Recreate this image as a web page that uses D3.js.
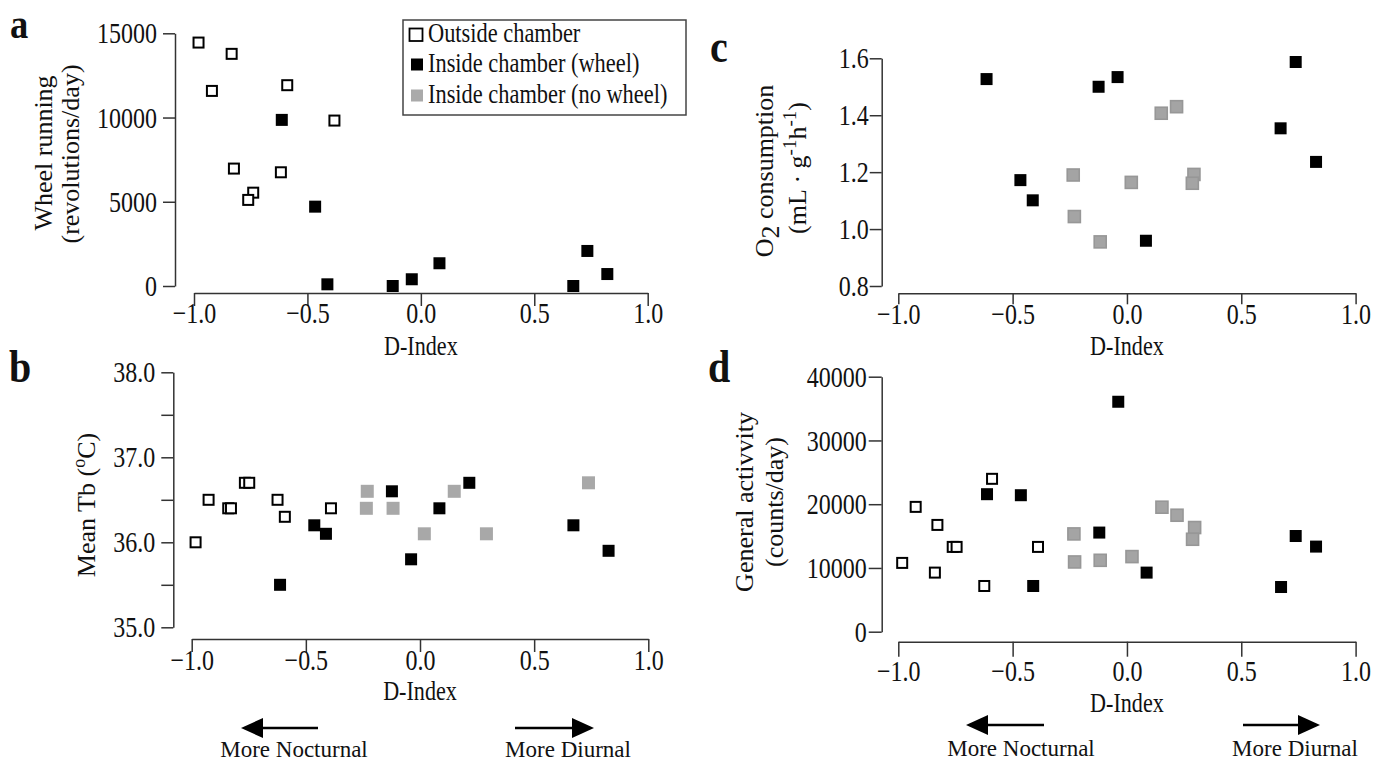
<!DOCTYPE html>
<html><head><meta charset="utf-8">
<script src="https://cdn.jsdelivr.net/npm/d3@7"></script>
<style>
body{margin:0;background:#fff}
svg{display:block;background:#fff}
text{font-family:"Liberation Serif","Times New Roman",serif;fill:#111}
</style>
</head><body>
<svg id="chart" width="1383" height="763"></svg>
<script>
// ---------- DATA ([D-Index, value]) ----------
const wheelOutside = [[-0.98,14450],[-0.834,13780],[-0.921,11580],[-0.589,11920],[-0.381,9820],[-0.824,6970],[-0.617,6750],[-0.739,5540],[-0.761,5110]];
const wheelInside  = [[-0.613,9860],[-0.466,4710],[-0.412,100],[-0.124,0],[-0.04,400],[0.082,1350],[0.672,0],[0.734,2080],[0.822,710]];

const tbOutside = [[-0.983,36.0],[-0.926,36.5],[-0.840,36.4],[-0.828,36.4],[-0.767,36.7],[-0.748,36.7],[-0.624,36.5],[-0.592,36.3],[-0.390,36.4]];
const tbWheel   = [[-0.613,35.5],[-0.463,36.2],[-0.412,36.1],[-0.123,36.6],[-0.039,35.8],[0.085,36.4],[0.216,36.7],[0.672,36.2],[0.826,35.9]];
const tbNoWheel = [[-0.231,36.6],[-0.235,36.4],[-0.118,36.4],[0.019,36.1],[0.150,36.6],[0.291,36.1],[0.738,36.7]];

const o2Wheel   = [[-0.614,1.527],[-0.466,1.172],[-0.412,1.101],[-0.124,1.500],[-0.041,1.534],[0.083,0.959],[0.672,1.354],[0.738,1.587],[0.827,1.236]];
const o2NoWheel = [[-0.235,1.19],[-0.230,1.044],[-0.117,0.955],[0.019,1.164],[0.150,1.407],[0.217,1.430],[0.293,1.192],[0.286,1.161]];

const actOutside = [[-0.983,10790],[-0.924,19580],[-0.829,16750],[-0.840,9270],[-0.762,13300],[-0.745,13300],[-0.624,7170],[-0.590,23980],[-0.389,13300]];
const actWheel   = [[-0.612,21570],[-0.464,21410],[-0.410,7170],[-0.121,15550],[-0.038,36070],[0.086,9270],[0.674,7010],[0.738,15010],[0.827,13350]];
const actNoWheel = [[-0.232,15340],[-0.229,10940],[-0.117,11200],[0.022,11780],[0.153,19530],[0.219,18270],[0.296,16340],[0.287,14500]];

// ---------- TICKS / LABELS ----------
const xTicks = [-1, -0.5, 0, 0.5, 1];
const aTicks = [0, 5000, 10000, 15000];
const bTicks = [35, 35.5, 36, 36.5, 37, 37.5, 38];
const cTicks = [0.8, 1.0, 1.2, 1.4, 1.6];
const dTicks = [0, 10000, 20000, 30000, 40000];
const legendLabels = ["Outside chamber", "Inside chamber (wheel)", "Inside chamber (no wheel)"];
const xTitle = "D-Index";

// ---------- DRAW ----------
const svg = d3.select("#chart");
const SX = 0.8;
const FONT = "Liberation Serif, Times New Roman, serif";
const fmtX = v => (v < 0 ? "\u2212" : "") + Math.abs(v).toFixed(1);

function squares(g, data, x, y, kind) {
  const s = kind === "open" ? 10 : 12;
  const r = g.append("g").selectAll("rect").data(data).join("rect")
    .attr("x", d => x(d[0]) - s / 2).attr("y", d => y(d[1]) - s / 2)
    .attr("width", s).attr("height", s);
  if (kind === "open") r.attr("fill", "#fff").attr("stroke", "#000").attr("stroke-width", 2);
  else if (kind === "black") r.attr("fill", "#000");
  else if (kind === "grayB") r.attr("fill", "#a8a8a8").attr("x", d => x(d[0]) - 6.5).attr("y", d => y(d[1]) - 6.5).attr("width", 13).attr("height", 13);
  else if (kind === "grayC") r.attr("fill", "#a4a4a4").attr("stroke", "#979797").attr("stroke-width", 1.6);
}

function panel(cfg) {
  const x = d3.scaleLinear().domain([-1, 1]).range(cfg.xr);
  const y = d3.scaleLinear().domain(cfg.yd).range(cfg.yr);
  const g = svg.append("g");

  const ya = g.append("g").attr("transform", `translate(${cfg.yAxisX},0)`)
    .call(d3.axisLeft(y).tickValues(cfg.yTicks).tickSize(cfg.yTick).tickSizeOuter(0).tickFormat(cfg.yFmt));
  ya.attr("font-family", FONT).attr("font-size", 30);
  ya.selectAll(".domain, .tick line").attr("stroke", "#333").attr("stroke-width", 1.5);
  ya.selectAll(".tick text").attr("fill", "#111")
    .attr("x", -(cfg.yTick + cfg.yGap) / SX).attr("transform", `scale(${SX},1)`);

  const xa = g.append("g").attr("transform", `translate(0,${cfg.xAxisY})`)
    .call(d3.axisBottom(x).tickValues(xTicks).tickSize(cfg.xTick).tickSizeOuter(0).tickFormat(fmtX));
  xa.attr("font-family", FONT).attr("font-size", 30);
  xa.selectAll(".domain, .tick line").attr("stroke", "#333").attr("stroke-width", 1.5);
  xa.selectAll(".tick text").attr("fill", "#111")
    .attr("y", cfg.xLabY - cfg.xAxisY).attr("dy", 0).attr("transform", `scale(${SX},1)`);

  g.append("text").attr("transform", `translate(${(cfg.xr[0] + cfg.xr[1]) / 2},${cfg.titleY}) scale(0.82,1)`)
    .attr("text-anchor", "middle").attr("font-size", 27).text(xTitle);

  g.append("text").attr("transform", `translate(${cfg.letter[0]},${cfg.letter[1]}) scale(0.87,1)`)
    .attr("font-size", cfg.letter[3]).attr("font-weight", "bold").text(cfg.letter[2]);

  cfg.series.forEach(s => squares(g, s[0], x, y, s[1]));
  return { g, x, y };
}

// a
panel({ xr: [194, 647.7], yd: [0, 15000], yr: [286, 33.3], yAxisX: 175, xAxisY: 293,
  yTicks: aTicks, yFmt: d3.format("d"), yTick: 12, yGap: 6, xTick: 13, xLabY: 323, titleY: 355,
  letter: [10, 38, "a", 42], series: [[wheelOutside, "open"], [wheelInside, "black"]] });
// b
panel({ xr: [191.7, 648.3], yd: [35, 38], yr: [627.3, 372.3], yAxisX: 173.3, xAxisY: 639,
  yTicks: bTicks, yFmt: v => Number.isInteger(v) ? v.toFixed(1) : "", yTick: 12, yGap: 6, xTick: 13, xLabY: 670, titleY: 700,
  letter: [9, 382, "b", 46], series: [[tbOutside, "open"], [tbNoWheel, "grayB"], [tbWheel, "black"]] });
// c
panel({ xr: [898.3, 1355.6], yd: [0.8, 1.6], yr: [286, 58.3], yAxisX: 881.7, xAxisY: 293.3,
  yTicks: cTicks, yFmt: d3.format(".1f"), yTick: 12, yGap: 1, xTick: 11, xLabY: 324, titleY: 355,
  letter: [710, 62, "c", 46], series: [[o2NoWheel, "grayC"], [o2Wheel, "black"]] });
// d
panel({ xr: [898.3, 1355.6], yd: [0, 40000], yr: [631.7, 376.7], yAxisX: 881.7, xAxisY: 641.7,
  yTicks: dTicks, yFmt: d3.format("d"), yTick: 13, yGap: 2, xTick: 15, xLabY: 681, titleY: 712,
  letter: [708, 382, "d", 46], series: [[actOutside, "open"], [actNoWheel, "grayC"], [actWheel, "black"]] });

// y-axis titles (rotated)
function vlabel(x, y, build) {
  const t = svg.append("text").attr("transform", `translate(${x},${y}) rotate(-90)`)
    .attr("text-anchor", "middle").attr("font-size", 26);
  build(t);
}
vlabel(52, 153, t => t.text("Wheel running"));
vlabel(79, 154, t => t.text("(revolutions/day)"));
vlabel(95, 505, t => {
  t.append("tspan").text("Mean Tb (");
  t.append("tspan").attr("font-size", 18).attr("dy", -10).text("o");
  t.append("tspan").attr("dy", 10).text("C)");
});
vlabel(773, 171, t => {
  t.append("tspan").text("O");
  t.append("tspan").attr("dy", 6).text("2");
  t.append("tspan").attr("dy", -6).text(" consumption");
});
vlabel(806, 168, t => {
  t.append("tspan").text("(mL \u00b7 g");
  t.append("tspan").attr("font-size", 19).attr("dy", -10).text("-1");
  t.append("tspan").attr("dy", 10).text("h");
  t.append("tspan").attr("font-size", 19).attr("dy", -10).text("-1");
  t.append("tspan").attr("dy", 10).text(")");
});
vlabel(753, 502, t => t.text("General activvity"));
vlabel(783, 502, t => t.text("(counts/day)"));

// legend
const lg = svg.append("g");
lg.append("rect").attr("x", 403).attr("y", 20).attr("width", 283).attr("height", 95)
  .attr("fill", "#fff").attr("stroke", "#444").attr("stroke-width", 1.5);
const legendY = [41.5, 71.7, 103.3];
lg.append("rect").attr("x", 409.5).attr("y", 28.5).attr("width", 13).attr("height", 12.5)
  .attr("fill", "#fff").attr("stroke", "#000").attr("stroke-width", 1.8);
lg.append("rect").attr("x", 411).attr("y", 58.5).attr("width", 12).attr("height", 12).attr("fill", "#000");
lg.append("rect").attr("x", 411).attr("y", 89.5).attr("width", 12).attr("height", 12).attr("fill", "#aaa");
legendLabels.forEach((l, i) => {
  lg.append("text").attr("transform", `translate(428,${legendY[i]}) scale(0.8,1)`)
    .attr("font-size", 28).text(l);
});

// direction arrows
function arrow(x0, x1, y) {
  const dir = Math.sign(x1 - x0);
  svg.append("line").attr("x1", x0).attr("x2", x1 - dir * 18).attr("y1", y).attr("y2", y)
    .attr("stroke", "#000").attr("stroke-width", 2.5);
  svg.append("path").attr("d", `M${x1},${y}L${x1 - dir * 22},${y - 10}L${x1 - dir * 22},${y + 10}Z`).attr("fill", "#000");
}
function note(x, y, s) {
  svg.append("text").attr("x", x).attr("y", y).attr("text-anchor", "middle").attr("font-size", 23).text(s);
}
arrow(318, 241, 728); arrow(515, 594, 728);
note(294, 757, "More Nocturnal"); note(568, 757, "More Diurnal");
arrow(1044, 966, 725); arrow(1243, 1320, 725);
note(1021, 756, "More Nocturnal"); note(1295, 756, "More Diurnal");
</script>
</body></html>
